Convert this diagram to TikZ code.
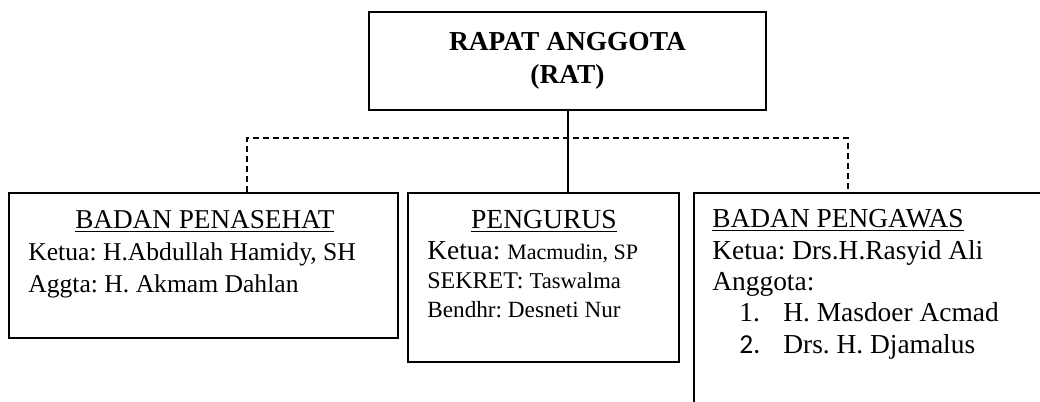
\documentclass[tikz,border=0pt]{standalone}
\usepackage{fontspec}
\setmainfont{Liberation Serif}
\newfontfamily\calibri{Carlito}
\frenchspacing
\usetikzlibrary{positioning,calc}
\tikzset{
	orgbox/.style={draw,line width=0.9pt,inner sep=0pt,anchor=north west},
	boxtext/.style={inner sep=0pt,anchor=base west,align=left},
	boxtitle/.style={inner sep=0pt,anchor=base},
	link/.style={line width=1pt},
	dlink/.style={line width=0.9pt,dash pattern=on 3pt off 2pt},
}
\begin{document}
\begin{tikzpicture}[x=0.5pt,y=-0.5pt]
\useasboundingbox (0,0) rectangle (1040,402);
% top box
\node (rat) at (567.5,61) [draw,line width=0.9pt,minimum width=198.5pt,minimum height=49pt,align=center,font=\fontsize{13.7}{16.5}\selectfont\bfseries] {RAPAT ANGGOTA\\(RAT)};
% the three boxes below
\node (penasehat) at (8,192) [orgbox,minimum width=194.5pt,minimum height=72.5pt] {};
\node (pengurus) at (407,192) [orgbox,minimum width=135.5pt,minimum height=84.5pt] {};
\node (pengawas) at (693,192) [orgbox,minimum width=220pt,minimum height=130pt] {};
% texts (base = last line)
\node (penasehat title) at ($(penasehat.north)+(1.5,36)$) [boxtitle,font=\fontsize{13.6}{16}\selectfont] {\underline{BADAN PENASEHAT}};
\node (penasehat body) at ($(penasehat.north west)+(20,100)$) [boxtext,font=\fontsize{12.8}{15.75}\selectfont] {Ketua: H.Abdullah Hamidy, SH\\Aggta: H. Akmam Dahlan};
\node (pengurus title) at ($(pengurus.north)+(0.5,36)$) [boxtitle,font=\fontsize{13.8}{16}\selectfont] {\underline{PENGURUS}};
\node (pengurus body) at ($(pengurus.north west)+(20,125)$) [boxtext,font=\fontsize{13.7}{14.3}\selectfont] {Ketua: {\fontsize{11}{14.3}\selectfont Macmudin, SP}\\{\fontsize{12}{14.3}\selectfont SEKRET: \fontsize{11.3}{14.3}\selectfont Taswalma}\\{\fontsize{11.6}{14.3}\selectfont Bendhr: Desneti Nur}};
\node (pengawas title) at ($(pengawas.north west)+(19,35)$) [boxtext,font=\fontsize{13.7}{16}\selectfont] {\underline{BADAN PENGAWAS}};
\node (pengawas body) at ($(pengawas.north west)+(19,161)$) [boxtext,font=\fontsize{13.7}{15.65}\selectfont] {Ketua: Drs.H.Rasyid Ali\\Anggota:\\\hspace*{13.5pt}\makebox[22pt][l]{1.}H. Masdoer Acmad\\\hspace*{13.5pt}\makebox[22pt][l]{\calibri 2.}Drs. H. Djamalus};
% connectors
\draw[link] (rat.south) -- (rat.south |- pengurus.north);
\coordinate (dleft) at (247,138);
\coordinate (dright) at (848,138);
\draw[dlink] (dleft |- penasehat.north) -- (dleft) -- (dright) -- (dright |- pengawas.north);
\end{tikzpicture}
\end{document}
